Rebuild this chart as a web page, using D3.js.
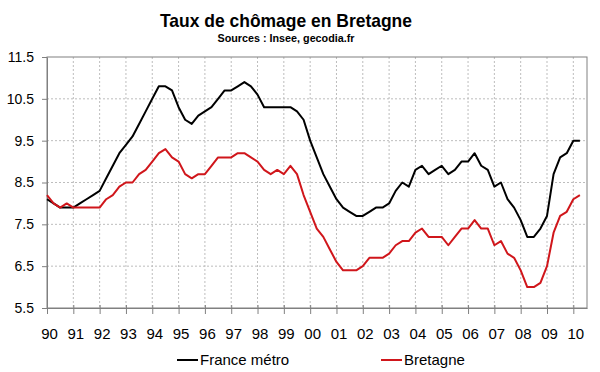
<!DOCTYPE html>
<html lang="fr">
<head>
<meta charset="UTF-8">
<title>Taux de chômage en Bretagne</title>
<script src="https://d3js.org/d3.v7.min.js"></script>
<style>
  body { margin:0; background:#fff; }
  svg { display:block; font-family: Arial, "Liberation Sans", sans-serif; }
  .grid line { stroke:#bdbdbd; stroke-width:1; stroke-dasharray:2,2; }
  .axis path, .axis line { stroke:#808080; }
  .axis text { fill:#000; }
</style>
</head>
<body>
<svg id="chart" width="600" height="372"></svg>
<script>
// trimestres, de 1989T4 (placé sur 1990) à 2010T1
const years = d3.range(1990, 2011);
const france = [8.1,8.0,7.9,7.9,7.9,8.0,8.1,8.2,8.3,8.6,8.9,9.2,9.4,9.6,9.9,10.2,10.5,10.8,10.8,10.7,
  10.3,10.0,9.9,10.1,10.2,10.3,10.5,10.7,10.7,10.8,10.9,10.8,10.6,10.3,10.3,10.3,10.3,10.3,10.2,10.0,
  9.5,9.1,8.7,8.4,8.1,7.9,7.8,7.7,7.7,7.8,7.9,7.9,8.0,8.3,8.5,8.4,8.8,8.9,8.7,8.8,
  8.9,8.7,8.8,9.0,9.0,9.2,8.9,8.8,8.4,8.5,8.1,7.9,7.6,7.2,7.2,7.4,7.7,8.7,9.1,9.2,9.5,9.5];
const bretagne = [8.2,8.0,7.9,8.0,7.9,7.9,7.9,7.9,7.9,8.1,8.2,8.4,8.5,8.5,8.7,8.8,9.0,9.2,9.3,9.1,
  9.0,8.7,8.6,8.7,8.7,8.9,9.1,9.1,9.1,9.2,9.2,9.1,9.0,8.8,8.7,8.8,8.7,8.9,8.7,8.2,
  7.8,7.4,7.2,6.9,6.6,6.4,6.4,6.4,6.5,6.7,6.7,6.7,6.8,7.0,7.1,7.1,7.3,7.4,7.2,7.2,
  7.2,7.0,7.2,7.4,7.4,7.6,7.4,7.4,7.0,7.1,6.8,6.7,6.4,6.0,6.0,6.1,6.5,7.3,7.7,7.8,8.1,8.2];
const yTicks = [5.5, 6.5, 7.5, 8.5, 9.5, 10.5, 11.5];
const series = [
  { name: 'France métro', values: france, color: '#000000' },
  { name: 'Bretagne', values: bretagne, color: '#d0161b' }
];

const svg = d3.select('#chart');
const m = { left: 47, right: 587, top: 57, bottom: 308 };

const x = d3.scaleLinear().domain([1990, 2010.52]).range([m.left, m.right]);
const y = d3.scaleLinear().domain([5.5, 11.5]).range([m.bottom, m.top]);
const quarter = i => 1990 + i / 4;

// titre
svg.append('text')
  .attr('x', 286).attr('y', 27)
  .attr('text-anchor', 'middle')
  .attr('font-size', 19).attr('font-weight', 'bold')
  .attr('textLength', 252).attr('lengthAdjust', 'spacingAndGlyphs')
  .text('Taux de chômage en Bretagne');
svg.append('text')
  .attr('x', 286).attr('y', 42)
  .attr('text-anchor', 'middle')
  .attr('font-size', 11).attr('font-weight', 'bold')
  .attr('textLength', 137).attr('lengthAdjust', 'spacingAndGlyphs')
  .text('Sources : Insee, gecodia.fr');

// grille pointillée
const grid = svg.append('g').attr('class', 'grid');
grid.selectAll('line.h')
  .data(yTicks.slice(1, -1))
  .join('line')
  .attr('class', 'h')
  .attr('x1', m.left).attr('x2', m.right)
  .attr('y1', d => y(d)).attr('y2', d => y(d));
grid.selectAll('line.v')
  .data(years.slice(1))
  .join('line')
  .attr('class', 'v')
  .attr('x1', d => x(d)).attr('x2', d => x(d))
  .attr('y1', m.top).attr('y2', m.bottom);

// cadre
svg.append('rect')
  .attr('x', m.left).attr('y', m.top)
  .attr('width', m.right - m.left).attr('height', m.bottom - m.top)
  .attr('fill', 'none').attr('stroke', '#808080');

// axes
svg.append('g')
  .attr('class', 'axis')
  .attr('transform', `translate(${m.left},0)`)
  .call(d3.axisLeft(y).tickValues(yTicks).tickSize(5).tickSizeOuter(0).tickPadding(8)
    .tickFormat(d3.format('.1f')))
  .call(g => g.selectAll('text').attr('font-size', 14).attr('font-family', 'Arial, "Liberation Sans", sans-serif'));

const xAxis = svg.append('g')
  .attr('class', 'axis')
  .attr('transform', `translate(0,${m.bottom})`)
  .call(d3.axisBottom(x).tickValues(years).tickSize(6).tickSizeOuter(0).tickPadding(14)
    .tickFormat(d => String(d % 100).padStart(2, '0')));
xAxis.selectAll('text')
  .attr('font-size', 15).attr('dx', 2)
  .attr('font-family', 'Arial, "Liberation Sans", sans-serif');
xAxis.selectAll('.tick line').attr('y1', -3);

// courbes
const line = d3.line()
  .x((d, i) => x(quarter(i)))
  .y(d => y(d));
svg.append('g')
  .selectAll('path')
  .data(series)
  .join('path')
  .attr('d', d => line(d.values))
  .attr('fill', 'none')
  .attr('stroke', d => d.color)
  .attr('stroke-width', 2)
  .attr('stroke-linejoin', 'round');

// légende
const legend = svg.append('g')
  .selectAll('g')
  .data(series)
  .join('g')
  .attr('transform', (d, i) => `translate(${[177, 381][i]},360)`);
legend.append('line')
  .attr('x1', 0).attr('x2', 21)
  .attr('stroke', d => d.color).attr('stroke-width', 2);
legend.append('text')
  .attr('x', 23).attr('y', 5)
  .attr('font-size', 15)
  .text(d => d.name);
</script>
</body>
</html>
